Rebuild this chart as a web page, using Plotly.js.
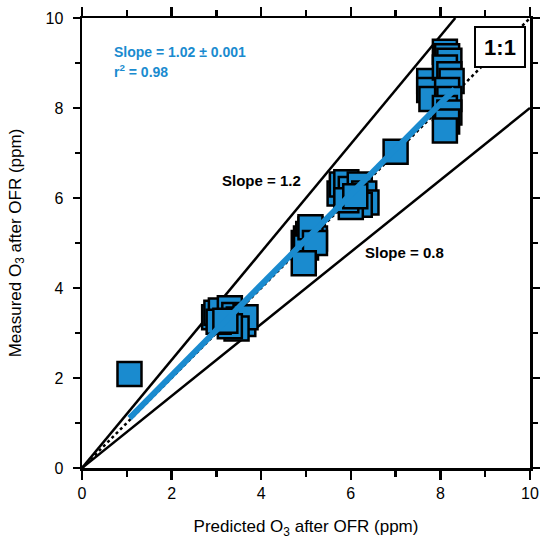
<!DOCTYPE html>
<html>
<head>
<meta charset="utf-8">
<script src="https://cdn.plot.ly/plotly-3.0.1.min.js"></script>
<style>html,body{margin:0;padding:0;background:#fff;overflow:hidden;}#chart{width:541px;height:542px;}</style>
</head>
<body>
<div id="chart"></div>
<script>
// Measured vs predicted O3 (ppm)
const predicted = [1.06,
  2.95, 3.0, 3.1, 3.3, 3.4, 3.5, 3.6, 3.65, 3.45, 3.3, 3.05, 3.2,
  4.95, 5.0, 5.05, 5.1, 5.15, 5.2, 5.0, 5.1, 5.2, 4.95,
  5.75, 5.8, 5.9, 6.0, 6.2, 6.3, 6.35, 6.2, 6.0, 5.9, 6.1,
  7.0,
  7.75, 7.75, 7.8, 8.1, 8.15, 8.2, 8.1, 8.2, 8.25, 8.15, 8.2, 8.1, 8.2, 8.15, 8.1];
const measured = [2.09,
  3.35, 3.45, 3.5, 3.55, 3.4, 3.3, 3.2, 3.35, 3.1, 3.15, 3.25, 3.27,
  5.0, 5.1, 5.2, 5.3, 5.25, 5.1, 4.9, 5.35, 5.0, 4.55,
  6.1, 6.3, 6.35, 6.2, 6.3, 6.1, 5.9, 5.85, 5.8, 5.95, 6.04,
  7.03,
  8.6, 8.4, 8.2, 9.25, 9.15, 9.05, 8.9, 8.75, 8.6, 8.4, 8.2, 8.0, 7.9, 7.7, 7.5];
const fitX = [1.06, 8.32];
const fitY = [1.11, 8.42];
const refX = [0, 10];
const oneToOne = [0, 10];
const slope12X = [0, 8.333];
const slope12Y = [0, 10];
const slope08X = [0, 10];
const slope08Y = [0, 8];
const tickVals = [0, 2, 4, 6, 8, 10];

const blue = '#1a8bcf';
const FONT = 'Liberation Sans, Arial, sans-serif';
const traces = [
  {x: slope12X, y: slope12Y, mode: 'lines', line: {color: '#000', width: 2.5}, hoverinfo: 'skip'},
  {x: slope08X, y: slope08Y, mode: 'lines', line: {color: '#000', width: 2.5}, hoverinfo: 'skip'},
  {x: refX, y: oneToOne, mode: 'lines', line: {color: '#000', width: 2.5, dash: 'dot'}, hoverinfo: 'skip'},
  {x: predicted, y: measured, mode: 'markers', type: 'scatter',
   marker: {symbol: 'square', size: 24, color: blue, line: {color: '#000', width: 2.5}}},
  {x: fitX, y: fitY, mode: 'lines', line: {color: blue, width: 6}, hoverinfo: 'skip'}
];

const axisCommon = {
  range: [0, 10], tickvals: tickVals, ticktext: tickVals.map(String),
  ticks: 'outside', ticklen: 7, tickwidth: 2.5, tickcolor: '#000',
  minor: {dtick: 1, tick0: 0, ticks: 'outside', ticklen: 5, tickwidth: 2.5, tickcolor: '#000', showgrid: false},
  showline: true, linecolor: '#000', linewidth: 2.5, mirror: 'ticks',
  showgrid: false, zeroline: false, ticklabeloverflow: 'allow',
  tickfont: {family: FONT, size: 16, color: '#000'}
};

const layout = {
  width: 541, height: 542,
  margin: {l: 82, r: 11, t: 18, b: 74},
  paper_bgcolor: '#fff', plot_bgcolor: '#fff',
  showlegend: false,
  xaxis: Object.assign({}, axisCommon, {
    ticklen: 9, minor: Object.assign({}, axisCommon.minor, {ticklen: 6}),
    title: {text: 'Predicted O<sub>3</sub> after OFR (ppm)', standoff: 20,
            font: {family: FONT, size: 17, color: '#000'}}
  }),
  yaxis: Object.assign({}, axisCommon, {
    ticklabelstandoff: 6,
    title: {text: 'Measured O<sub>3</sub> after OFR (ppm)', standoff: 20,
            font: {family: FONT, size: 17, color: '#000'}}
  }),
  annotations: [
    {xref: 'paper', yref: 'paper', x: 0.066, y: 0.924, xanchor: 'left', yanchor: 'middle', showarrow: false,
     text: '<b>Slope = 1.02 ± 0.001</b>', font: {family: FONT, size: 14, color: blue}},
    {xref: 'paper', yref: 'paper', x: 0.066, y: 0.882, xanchor: 'left', yanchor: 'middle', showarrow: false,
     text: '<b>r<sup>2</sup> = 0.98</b>', font: {family: FONT, size: 14, color: blue}},
    {xref: 'paper', yref: 'paper', x: 0.309, y: 0.638, xanchor: 'left', yanchor: 'middle', showarrow: false,
     text: '<b>Slope = 1.2</b>', font: {family: FONT, size: 15, color: '#000'}},
    {xref: 'paper', yref: 'paper', x: 0.627, y: 0.48, xanchor: 'left', yanchor: 'middle', showarrow: false,
     text: '<b>Slope = 0.8</b>', font: {family: FONT, size: 15, color: '#000'}},
    {xref: 'paper', yref: 'paper', x: 0.933, y: 0.936, xanchor: 'center', yanchor: 'middle', showarrow: false,
     text: '<b>1:1</b>', font: {family: FONT, size: 22, color: '#000'},
     bgcolor: '#fff', bordercolor: '#000', borderwidth: 2, borderpad: 4, width: 40, height: 30}
  ]
};

Plotly.newPlot('chart', traces, layout, {displayModeBar: false, staticPlot: true});
</script>
</body>
</html>
